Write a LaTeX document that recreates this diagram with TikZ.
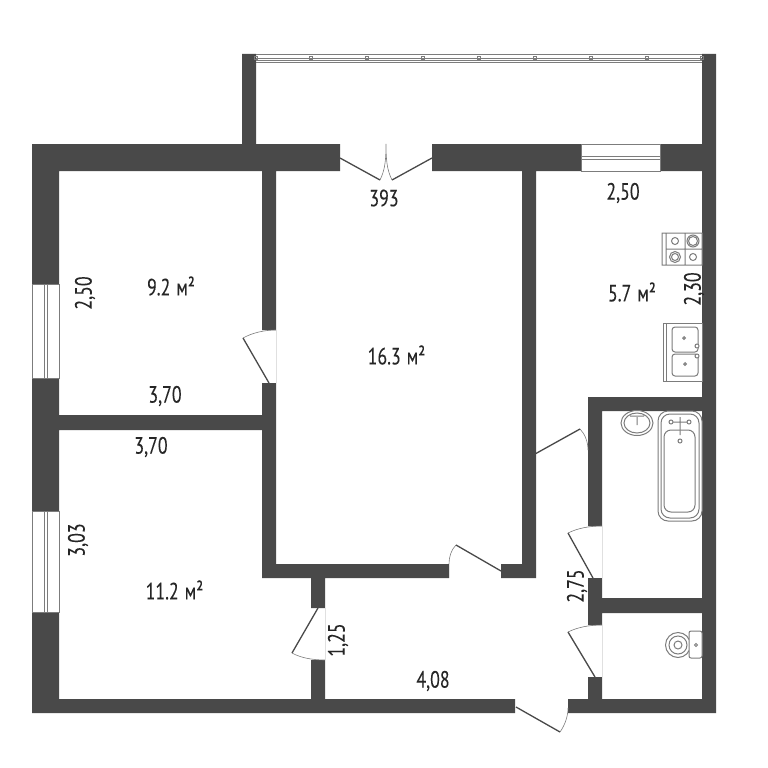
\documentclass[tikz,border=0pt]{standalone}
\usepackage{fontspec}
\setmainfont[FakeStretch=0.76, FakeBold=0.12]{PT Sans}
\definecolor{wallgray}{HTML}{494949}
\definecolor{linegray}{HTML}{7C7C7C}
\newcommand{\sqm}{\kern6pt м²}
\tikzset{
    wall/.style={fill=wallgray},
    leaf/.style={draw=wallgray, line width=1.3pt},
    swing/.style={draw=linegray, line width=0.6pt},
    jamb/.style={draw=black!12, line width=0.6pt},
    glass/.style={draw=linegray, line width=0.8pt, fill=white},
    fixture/.style={draw=linegray, line width=1pt, fill=white},
    label/.style={text=black!85, font=\fontsize{23.5}{24}\selectfont, inner sep=0pt}
}
\begin{document}
\begin{tikzpicture}[x=1pt, y=-1pt]
    \useasboundingbox (0,0) rectangle (768,768);
    % outer walls and partitions
    \fill
        [wall]
        (242,54) rectangle (256,144)
        (702,54) rectangle (716,713)
        (32,144) rectangle (340,171)
        (432,144) rectangle (581,171)
        (660,144) rectangle (716,171)
        (32,144) rectangle (59,284)
        (32,378) rectangle (59,511)
        (32,612) rectangle (59,713)
        (32,699) rectangle (515,713)
        (568,699) rectangle (716,713)
        (262,171) rectangle (276,330)
        (262,383) rectangle (276,578)
        (59,415) rectangle (262,430)
        (262,564) rectangle (449,578)
        (501,564) rectangle (536,578)
        (522,171) rectangle (536,578)
        (311,578) rectangle (325,608)
        (311,660) rectangle (325,699)
        (588,397) rectangle (702,411)
        (588,397) rectangle (602,526)
        (588,578) rectangle (602,625)
        (602,598) rectangle (702,613)
        (588,677) rectangle (602,699)
    ;
    % balcony rail
    \draw
        [linegray, line width=0.7pt]
        (256,54.5) -- (702,54.5)
        (256,58) -- (702,58)
        (256,60) -- (702,60)
        (256,62) -- (702,62)
    ;
    \foreach \railx in {256,311,367,423,479,535,591,647,702} {
        \draw
            [linegray, line width=0.5pt]
            (\railx-1.5,56.5) rectangle (\railx+1.5,59.5)
        ;
    }
    % windows
    \draw
        [glass]
        (581,144.5) rectangle (660,171)
    ;
    \draw
        [glass]
        (32,284) rectangle (59,378)
    ;
    \draw
        [glass]
        (32,511) rectangle (59,612)
    ;
    \draw
        [linegray, line width=0.7pt]
        (581,156.5) -- (660,156.5)
        (581,159.5) -- (660,159.5)
        (44,284) -- (44,378)
        (47,284) -- (47,378)
        (44,511) -- (44,612)
        (47,511) -- (47,612)
    ;
    % door leaves
    \draw
        [leaf]
        (340,158) -- (380,180)
        (432,158) -- (392,180)
        (269,383) -- (243,338)
        (501,571) -- (456,545)
        (535,454) -- (580,429)
        (593,578) -- (568,533)
        (595,677) -- (568,632)
        (516,707) -- (560,732)
        (318,608) -- (292,653)
    ;
    % door swings
    \draw
        [swing]
        (380,180) .. controls (385,170) and (386,160) .. (386,144)
        (392,180) .. controls (387,170) and (386,160) .. (386,144)
        (243,338) .. controls (252,333) and (264,330) .. (276,330)
        (456,545) .. controls (451,550) and (449,557) .. (449,564)
        (580,429) .. controls (585,434) and (588,442) .. (588,450)
        (568,533) .. controls (578,528) and (590,526) .. (602,526)
        (568,632) .. controls (578,627) and (590,625) .. (602,625)
        (560,732) .. controls (565,725) and (568,716) .. (568,708)
        (292,653) .. controls (301,658) and (313,660) .. (325,660)
    ;
    \draw
        [jamb]
        (276,330) -- (276,383)
        (449,564) -- (449,578)
        (602,526) -- (602,578)
        (602,625) -- (602,677)
        (325,608) -- (325,660)
    ;
    % stove
    \draw
        [fixture]
        (662,233) rectangle (702,265)
        (666,233) -- (666,265)
        (666,249) -- (702,249)
        (685,233) -- (685,265)
        (675,241) circle (3.5)
        (693,241) circle (6)
        (693,241) circle (4.5)
        (675,257) circle (5.5)
        (675,257) circle (3.5)
        (693,257) circle (3.5)
    ;
    % kitchen sink
    \draw
        [fixture]
        (663,323) rectangle (702,381)
        (666,323) -- (666,381)
    ;
    \draw
        [fixture, rounded corners=3pt]
        (672,327) rectangle (698,352)
        (672,354) rectangle (698,376)
    ;
    \draw
        [fixture]
        (684,338) circle (1.3)
        (685,364) circle (1.3)
        (697,346) circle (2)
        (697,356) circle (2)
    ;
    % wash basin
    \draw
        [fixture]
        (637,423) ellipse (16 and 12.5)
        (637,423) ellipse (13 and 10)
        (637,417) -- (637,425)
        (630,416) -- (644,416)
    ;
    % bath
    \draw
        [fixture, rounded corners=10pt]
        (658,411) rectangle (702,521)
    ;
    \draw
        [fixture, rounded corners=9pt]
        (661,414) rectangle (699,518)
    ;
    \draw
        [fixture, rounded corners=7pt]
        (664,430) rectangle (695,512)
    ;
    \draw
        [fixture]
        (671,422) circle (2)
        (689,422) circle (2)
        (673,422) -- (687,422)
        (680,417) -- (680,435)
        (680,441) circle (2)
    ;
    % toilet
    \draw
        [fixture]
        (678,645) ellipse (12.5 and 12.5)
        (678,645) ellipse (9 and 9)
        (678,645) circle (4)
    ;
    \draw
        [fixture, rounded corners=2pt]
        (689,631) rectangle (702,658)
    ;
    \draw
        [fixture]
        (696,645) circle (1.5)
    ;
    % labels
    \node [label] (balconywidth) at (384,198) {393};
    \node [label] (kitchenwidth) at (623,193) {2,50};
    \node [label] (smallarea) at (171,286) {9.2\sqm};
    \node [label] (livingarea) at (396.5,355) {16.3\sqm};
    \node [label] (kitchenarea) at (632,292) {5.7\sqm};
    \node [label] (bigarea) at (174.5,590) {11.2\sqm};
    \node [label] (smallwidth) at (165,396) {3,70};
    \node [label] (bigwidth) at (151,447) {3,70};
    \node [label] (hallwidth) at (433,681) {4,08};
    \node [label, rotate=90] (kitchendepth) at (694,289) {2,30};
    \node [label, rotate=90] (smalldepth) at (85,293) {2,50};
    \node [label, rotate=90] (bigdepth) at (78,540) {3,03};
    \node [label, rotate=90] (halldepth) at (338,640) {1,25};
    \node [label, rotate=90] (hallwall) at (577,586) {2,75};
\end{tikzpicture}
\end{document}
